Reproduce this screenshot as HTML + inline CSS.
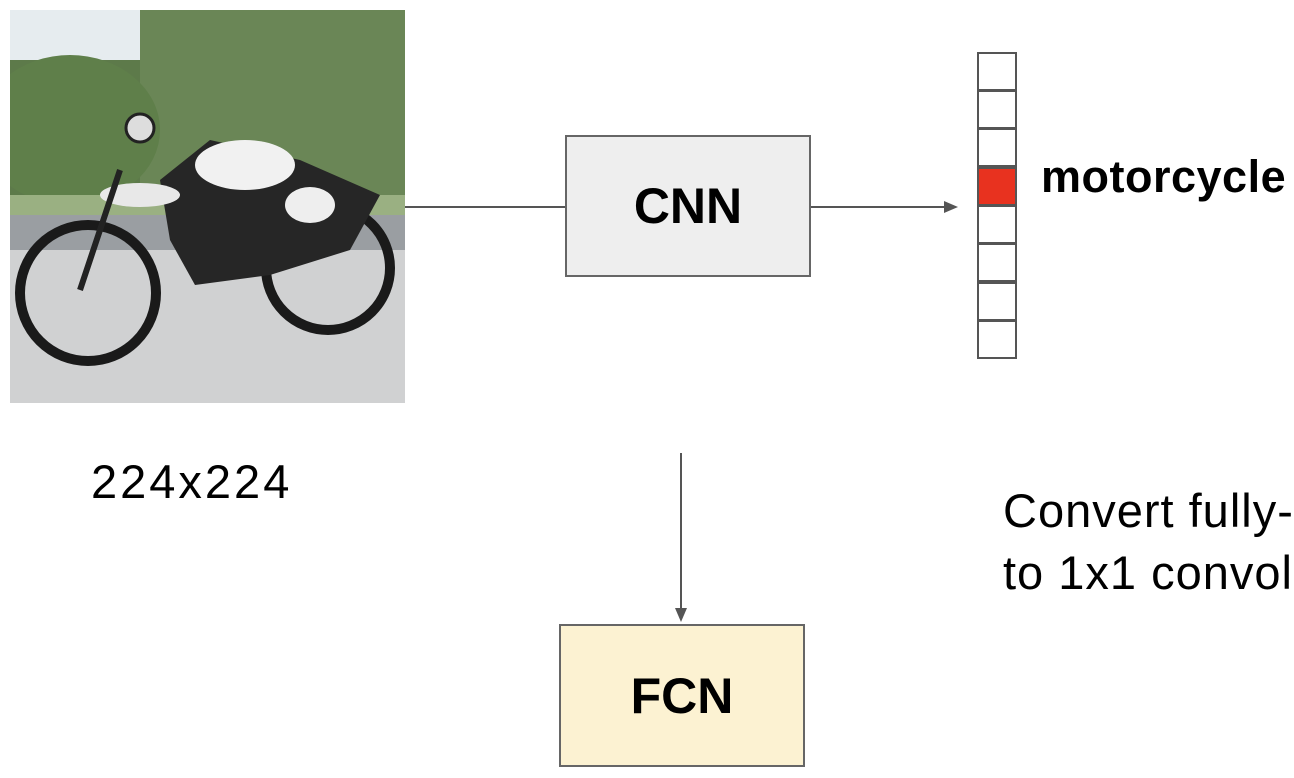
<!DOCTYPE html>
<html><head><meta charset="utf-8"><style>
html,body{margin:0;padding:0;background:#fff;}
body{width:1294px;height:778px;position:relative;overflow:hidden;font-family:"Liberation Sans",sans-serif;}
.abs{position:absolute;}
.box{position:absolute;box-sizing:border-box;border:2px solid #666;display:flex;align-items:center;justify-content:center;font-weight:bold;font-size:50px;color:#000;}
.cell{position:absolute;left:977px;width:40px;height:39px;box-sizing:border-box;border:2px solid #555;background:#fff;}
</style></head><body>
<svg class="abs" style="left:10px;top:10px" width="395" height="393" viewBox="0 0 395 393">
<rect width="395" height="393" fill="#d3d5d6"/>
<rect width="395" height="90" fill="#e6ecef"/>
<rect x="0" y="50" width="150" height="140" fill="#5d7a4a"/>
<rect x="130" y="0" width="265" height="200" fill="#6a8656"/>
<ellipse cx="60" cy="120" rx="90" ry="75" fill="#5f7f4a"/>
<rect x="0" y="185" width="395" height="20" fill="#9ab082"/>
<rect x="0" y="205" width="395" height="35" fill="#9a9ea2"/>
<rect x="0" y="240" width="395" height="153" fill="#d0d1d2"/>
<circle cx="78" cy="283" r="68" fill="none" stroke="#1a1a1a" stroke-width="10"/>
<circle cx="318" cy="258" r="62" fill="none" stroke="#1a1a1a" stroke-width="10"/>
<polygon points="150,170 200,130 290,150 370,185 340,240 260,265 185,275 160,230" fill="#262626"/>
<ellipse cx="235" cy="155" rx="50" ry="25" fill="#f1f1f1"/>
<ellipse cx="300" cy="195" rx="25" ry="18" fill="#eeeeee"/>
<ellipse cx="130" cy="185" rx="40" ry="12" fill="#e8e8e8"/>
<circle cx="130" cy="118" r="14" fill="#ddd" stroke="#222" stroke-width="3"/>
<line x1="110" y1="160" x2="70" y2="280" stroke="#222" stroke-width="6"/>
</svg>
<svg class="abs" style="left:0;top:0" width="1294" height="778">
<line x1="405" y1="207" x2="565" y2="207" stroke="#555" stroke-width="2"/>
<line x1="810" y1="207" x2="948" y2="207" stroke="#555" stroke-width="2"/>
<polygon points="958,207 944,201 944,213" fill="#555"/>
<line x1="681" y1="453" x2="681" y2="612" stroke="#555" stroke-width="2"/>
<polygon points="681,622 675,608 687,608" fill="#555"/>
</svg>
<div class="box" style="left:565px;top:135px;width:246px;height:142px;background:#eeeeee;">CNN</div>
<div class="box" style="left:559px;top:624px;width:246px;height:143px;background:#fcf2d2;">FCN</div>
<div class="cell" style="top:52px"></div>
<div class="cell" style="top:90px"></div>
<div class="cell" style="top:128px"></div>
<div class="cell" style="top:167px;background:#e8321f"></div>
<div class="cell" style="top:205px"></div>
<div class="cell" style="top:243px"></div>
<div class="cell" style="top:282px"></div>
<div class="cell" style="top:320px"></div>
<div class="abs" style="left:1041px;top:151px;font-size:45px;font-weight:bold;letter-spacing:0.5px;white-space:nowrap;">motorcycle</div>
<div class="abs" style="left:91px;top:454px;font-size:47px;letter-spacing:3px;white-space:nowrap;">224x224</div>
<div class="abs" style="left:1003px;top:480px;font-size:47px;line-height:62px;white-space:nowrap;letter-spacing:1px;">Convert fully-<br>to 1x1 convolu</div>
</body></html>
